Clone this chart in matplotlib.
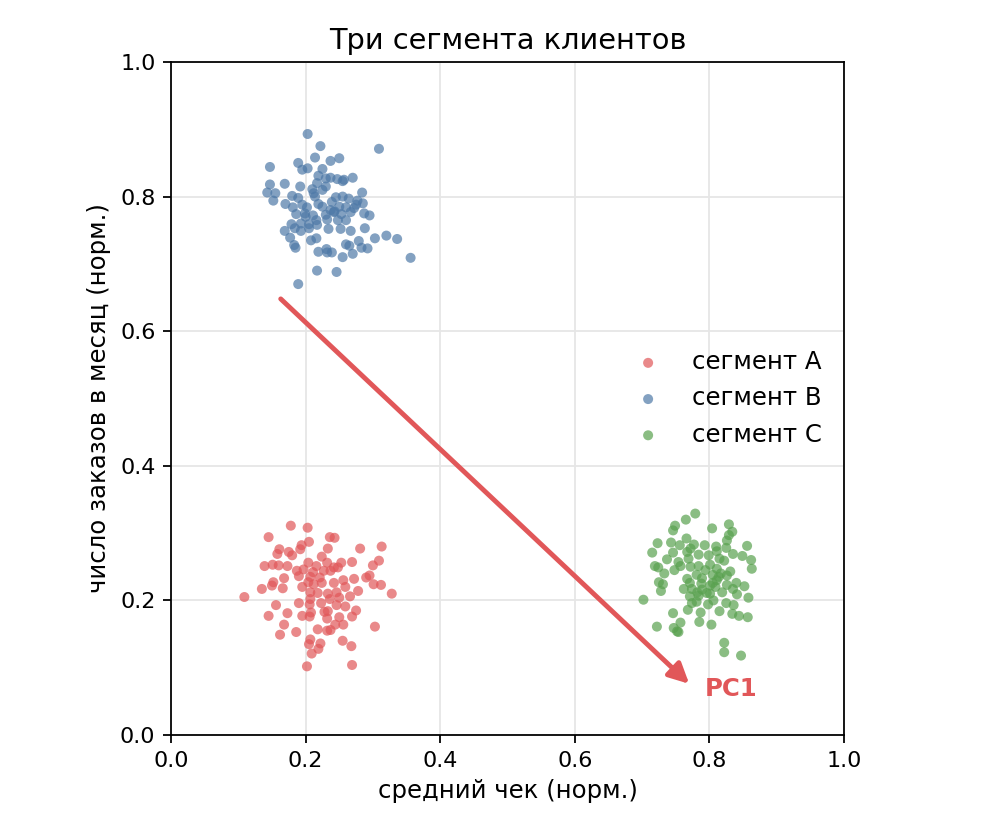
import matplotlib
matplotlib.use("Agg")
import matplotlib.pyplot as plt

# segment A (red), normalised values
a_x = [0.178, 0.203, 0.145, 0.205, 0.236, 0.243, 0.194, 0.233, 0.281, 0.313,
       0.161, 0.158, 0.175, 0.180, 0.192, 0.224, 0.309, 0.139, 0.151, 0.160,
       0.173, 0.204, 0.216, 0.232, 0.253, 0.269, 0.300, 0.242, 0.187, 0.197,
       0.211, 0.227, 0.237, 0.248, 0.295, 0.290, 0.168, 0.190, 0.207, 0.221,
       0.256, 0.272, 0.152, 0.150, 0.135, 0.166, 0.195, 0.212, 0.224, 0.242,
       0.259, 0.301, 0.312, 0.328, 0.109, 0.207, 0.218, 0.233, 0.246, 0.278,
       0.266, 0.207, 0.236, 0.250, 0.190, 0.206, 0.223, 0.246, 0.259, 0.156,
       0.233, 0.275, 0.145, 0.173, 0.195, 0.208, 0.228, 0.232, 0.250, 0.269,
       0.168, 0.206, 0.244, 0.256, 0.303, 0.162, 0.186, 0.218, 0.232, 0.237,
       0.207, 0.222, 0.205, 0.255, 0.268, 0.219, 0.209, 0.202, 0.269, 0.204]
a_y = [0.311, 0.308, 0.294, 0.287, 0.294, 0.293, 0.282, 0.277, 0.277, 0.280,
       0.276, 0.269, 0.272, 0.267, 0.276, 0.265, 0.259, 0.251, 0.253, 0.252,
       0.251, 0.256, 0.251, 0.256, 0.256, 0.257, 0.252, 0.249, 0.244, 0.246,
       0.242, 0.244, 0.244, 0.249, 0.237, 0.234, 0.233, 0.236, 0.235, 0.234,
       0.230, 0.232, 0.227, 0.222, 0.217, 0.218, 0.220, 0.224, 0.226, 0.226,
       0.220, 0.224, 0.223, 0.210, 0.205, 0.212, 0.211, 0.210, 0.212, 0.214,
       0.206, 0.202, 0.202, 0.204, 0.196, 0.194, 0.196, 0.193, 0.191, 0.193,
       0.184, 0.185, 0.177, 0.181, 0.177, 0.182, 0.183, 0.173, 0.175, 0.176,
       0.164, 0.176, 0.164, 0.164, 0.161, 0.149, 0.153, 0.157, 0.155, 0.156,
       0.142, 0.136, 0.135, 0.140, 0.132, 0.128, 0.121, 0.102, 0.104, 0.227]

# segment B (blue)
b_x = [0.203, 0.222, 0.309, 0.214, 0.237, 0.250, 0.147, 0.189, 0.195, 0.203,
       0.225, 0.219, 0.230, 0.237, 0.247, 0.255, 0.270, 0.147, 0.169, 0.192,
       0.217, 0.230, 0.210, 0.143, 0.155, 0.152, 0.180, 0.189, 0.212, 0.214,
       0.245, 0.255, 0.264, 0.284, 0.277, 0.285, 0.170, 0.181, 0.195, 0.202,
       0.219, 0.225, 0.237, 0.250, 0.260, 0.272, 0.186, 0.199, 0.211, 0.230,
       0.242, 0.253, 0.267, 0.287, 0.295, 0.216, 0.232, 0.248, 0.260, 0.179,
       0.193, 0.205, 0.217, 0.169, 0.184, 0.193, 0.234, 0.252, 0.267, 0.288,
       0.177, 0.208, 0.216, 0.279, 0.303, 0.320, 0.336, 0.183, 0.185, 0.260,
       0.265, 0.283, 0.292, 0.219, 0.231, 0.232, 0.239, 0.270, 0.255, 0.356,
       0.217, 0.246, 0.189, 0.243, 0.200, 0.257, 0.225, 0.239, 0.275, 0.205]
b_y = [0.893, 0.875, 0.871, 0.858, 0.853, 0.857, 0.844, 0.850, 0.840, 0.842,
       0.841, 0.831, 0.827, 0.828, 0.826, 0.823, 0.828, 0.818, 0.819, 0.815,
       0.820, 0.815, 0.811, 0.806, 0.805, 0.794, 0.801, 0.798, 0.805, 0.800,
       0.799, 0.800, 0.797, 0.806, 0.794, 0.790, 0.789, 0.784, 0.788, 0.784,
       0.789, 0.785, 0.780, 0.785, 0.784, 0.783, 0.774, 0.775, 0.772, 0.773,
       0.777, 0.774, 0.777, 0.775, 0.772, 0.765, 0.766, 0.765, 0.765, 0.759,
       0.760, 0.759, 0.758, 0.749, 0.753, 0.749, 0.752, 0.752, 0.749, 0.753,
       0.739, 0.735, 0.738, 0.734, 0.738, 0.742, 0.737, 0.728, 0.724, 0.729,
       0.727, 0.724, 0.723, 0.718, 0.722, 0.717, 0.717, 0.715, 0.710, 0.709,
       0.690, 0.688, 0.670, 0.778, 0.770, 0.825, 0.810, 0.792, 0.788, 0.753]

# segment C (green)
c_x = [0.779, 0.765, 0.749, 0.746, 0.804, 0.829, 0.834, 0.829, 0.723, 0.743,
       0.756, 0.766, 0.777, 0.793, 0.810, 0.826, 0.825, 0.856, 0.715, 0.746,
       0.784, 0.799, 0.835, 0.849, 0.862, 0.737, 0.754, 0.769, 0.815, 0.822,
       0.719, 0.724, 0.748, 0.757, 0.772, 0.784, 0.801, 0.811, 0.831, 0.863,
       0.733, 0.767, 0.781, 0.789, 0.805, 0.817, 0.826, 0.725, 0.731, 0.771,
       0.788, 0.805, 0.826, 0.852, 0.728, 0.774, 0.789, 0.819, 0.835, 0.841,
       0.858, 0.702, 0.771, 0.784, 0.806, 0.774, 0.798, 0.825, 0.836, 0.768,
       0.746, 0.787, 0.815, 0.834, 0.844, 0.857, 0.757, 0.785, 0.803, 0.722,
       0.747, 0.752, 0.754, 0.822, 0.822, 0.847, 0.811, 0.801, 0.796, 0.781,
       0.809, 0.794, 0.762, 0.840, 0.767, 0.811, 0.782, 0.801, 0.772, 0.814]
c_y = [0.329, 0.320, 0.311, 0.304, 0.307, 0.313, 0.302, 0.297, 0.285, 0.286,
       0.282, 0.292, 0.283, 0.282, 0.280, 0.289, 0.278, 0.281, 0.271, 0.271,
       0.268, 0.267, 0.269, 0.266, 0.260, 0.261, 0.257, 0.262, 0.262, 0.259,
       0.251, 0.249, 0.245, 0.251, 0.250, 0.251, 0.253, 0.247, 0.243, 0.247,
       0.240, 0.232, 0.238, 0.233, 0.238, 0.240, 0.237, 0.227, 0.224, 0.226,
       0.225, 0.226, 0.223, 0.221, 0.214, 0.217, 0.216, 0.212, 0.217, 0.209,
       0.204, 0.201, 0.206, 0.207, 0.200, 0.196, 0.194, 0.196, 0.193, 0.186,
       0.181, 0.182, 0.184, 0.180, 0.177, 0.175, 0.167, 0.168, 0.164, 0.161,
       0.159, 0.154, 0.153, 0.137, 0.123, 0.118, 0.230, 0.222, 0.211, 0.198,
       0.220, 0.245, 0.217, 0.226, 0.272, 0.273, 0.212, 0.210, 0.277, 0.235]

labels = ["сегмент A", "сегмент B", "сегмент C"]
colors = ["#e15759", "#4e79a7", "#59a14f"]

# first principal component direction
pc1_start = (0.163, 0.648)
pc1_end = (0.770, 0.076)

# everything is drawn 1.6x bigger than the matplotlib defaults
k = 1.6
plt.rcParams.update({
    "axes.linewidth": 0.8 * k,
    "xtick.major.size": 3.5 * k, "ytick.major.size": 3.5 * k,
    "xtick.major.width": 0.8 * k, "ytick.major.width": 0.8 * k,
    "xtick.major.pad": 3.5 * k, "ytick.major.pad": 3.5 * k,
    "axes.labelpad": 4.0 * k, "axes.titlepad": 6.0 * k,
})

fig = plt.figure(figsize=(9.92, 8.32), dpi=100)
ax = fig.add_axes([0.1724, 0.1166, 0.6784, 0.8089])

for xs, ys, lab, col in zip([a_x, b_x, c_x], [a_y, b_y, c_y], labels, colors):
    ax.scatter(xs, ys, s=52, color=col, alpha=0.7, edgecolors="none", label=lab)

ax.annotate("", xy=pc1_end, xytext=pc1_start,
            arrowprops=dict(arrowstyle="-|>", color="#e15759", lw=3.5,
                            mutation_scale=30, shrinkA=0, shrinkB=0))
ax.text(pc1_end[0] + 0.023, pc1_end[1] - 0.008, "PC1", color="#e15759",
        fontsize=17.6, fontweight="bold", va="center", ha="left")

ax.set_xlim(0, 1)
ax.set_ylim(0, 1)
ax.grid(True, color="#e6e6e6", lw=0.8 * k)
ax.set_axisbelow(True)
ax.tick_params(labelsize=16)
ax.set_xlabel("средний чек (норм.)", fontsize=17.6)
ax.set_ylabel("число заказов в месяц (норм.)", fontsize=17.6)
ax.set_title("Три сегмента клиентов", fontsize=20.8)
ax.legend(loc="center right", frameon=False, fontsize=17.6)

fig.savefig("out.png", dpi=100)
